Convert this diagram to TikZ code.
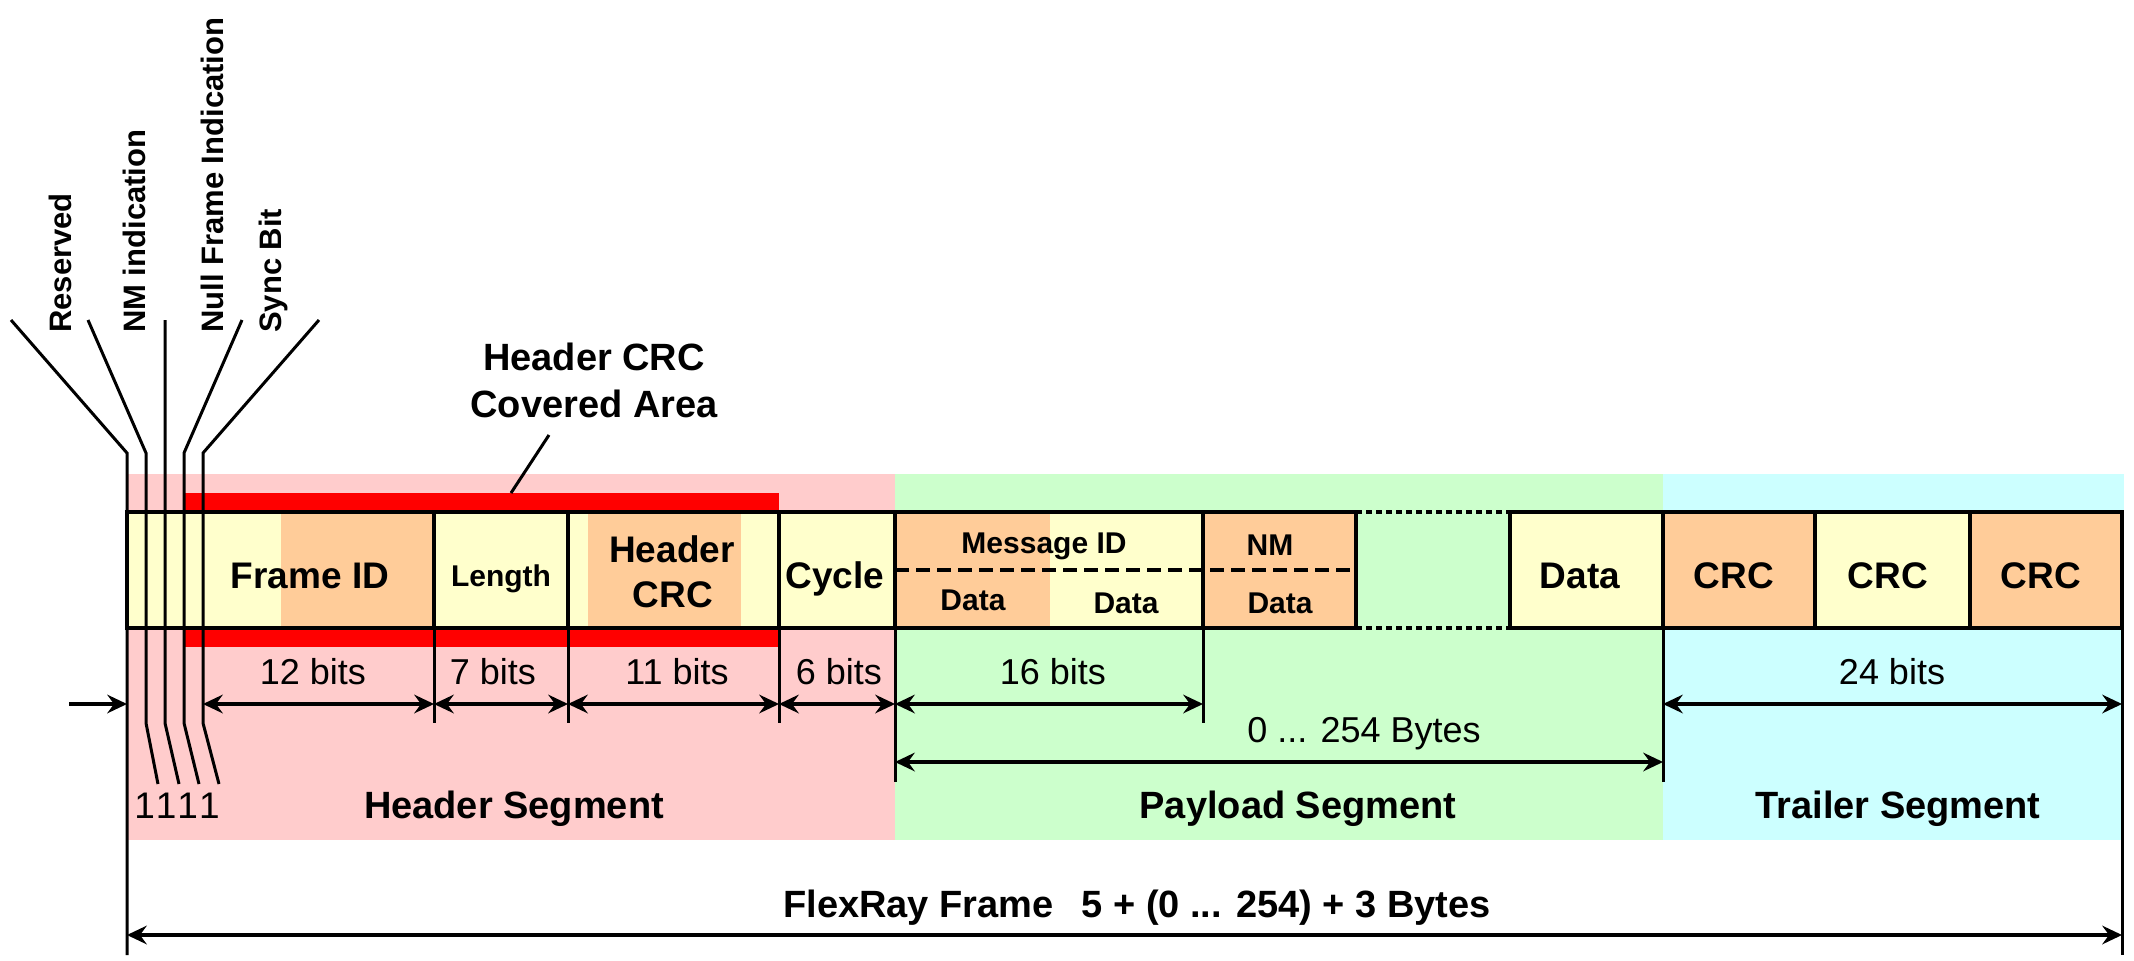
\documentclass[tikz,border=0pt]{standalone}
\usepackage{fontspec}
\setmainfont{Liberation Sans}
\usetikzlibrary{arrows.meta}
\definecolor{segpink}{RGB}{255,204,204}
\definecolor{seggreen}{RGB}{204,255,204}
\definecolor{segcyan}{RGB}{204,255,255}
\definecolor{cellyellow}{RGB}{255,255,204}
\definecolor{cellorange}{RGB}{255,204,153}
\definecolor{crcred}{RGB}{255,0,0}
\newcommand\fsz[1]{\fontsize{#1}{#1}\selectfont}
\tikzset{
  dimtip/.tip={Stealth[length=20pt,width=19pt,inset=7pt,line width=0pt]},
  frameline/.style={line width=4.5pt},
  thinline/.style={line width=3pt},
  dimarrow/.style={line width=4pt,dimtip-dimtip},
  inarrow/.style={line width=4pt,-dimtip},
  cellbold/.style={font=\bfseries\fsz{37},inner sep=0pt,anchor=base},
  cellsmall/.style={font=\bfseries\fsz{30},inner sep=0pt,anchor=base},
  dimlabel/.style={font=\fsz{36},inner sep=0pt,anchor=base},
  seglabel/.style={font=\bfseries\fsz{38},inner sep=0pt,anchor=base},
  sidelabel/.style={font=\bfseries\fsz{31},inner sep=0pt,rotate=90,anchor=base west},
}
\begin{document}
\begin{tikzpicture}[x=1pt,y=-1pt]
\useasboundingbox (0,0) rectangle (2134,961);

% segment backgrounds
\fill[segpink]  (127,474) rectangle (895,840);
\fill[seggreen] (895,474) rectangle (1663,840);
\fill[segcyan]  (1663,474) rectangle (2124,840);

% area protected by the header CRC
\fill[crcred] (184,493) rectangle (779,647);

% cell fills
\fill[cellyellow] (127,512) rectangle (281,628);
\fill[cellorange] (281,512) rectangle (434,628);
\fill[cellyellow] (434,512) rectangle (588,628);
\fill[cellorange] (588,512) rectangle (741,628);
\fill[cellyellow] (741,512) rectangle (895,628);
\fill[cellorange] (895,512) rectangle (1050,628);
\fill[cellyellow] (1050,512) rectangle (1203,628);
\fill[cellorange] (1203,512) rectangle (1356,628);
\fill[cellyellow] (1510,512) rectangle (1663,628);
\fill[cellorange] (1663,512) rectangle (1815,628);
\fill[cellyellow] (1815,512) rectangle (1970,628);
\fill[cellorange] (1970,512) rectangle (2122,628);

% frame outline
\draw[frameline] (1356,512) -- (127,512) -- (127,628) -- (1356,628) -- cycle;
\draw[frameline] (1510,512) rectangle (2122,628);
\draw[frameline,dash pattern=on 6pt off 4pt] (1356,512) -- (1510,512);
\draw[frameline,dash pattern=on 6pt off 4pt] (1356,628) -- (1510,628);
\draw[line width=4pt,dash pattern=on 14pt off 7pt] (895,570) -- (1356,570);

% cell separators
\foreach \x in {434,568,779,895,1203,1663,1815,1970}
  \draw[frameline] (\x,512) -- (\x,628);

% flag bit lines with their fanned-out leaders
\draw[thinline] (11,320) -- (127,453) -- (127,955);
\draw[thinline] (88,320) -- (146,453) -- (146,723) -- (158,784);
\draw[thinline] (165,320) -- (165,723) -- (179,784);
\draw[thinline] (242,320) -- (184,453) -- (184,723) -- (199,784);
\draw[thinline] (319,320) -- (203,453) -- (203,723) -- (219,784);

% dimension ticks below the frame
\foreach \x in {434,568,779,1203}
  \draw[thinline] (\x,628) -- (\x,723);
\foreach \x in {895,1663}
  \draw[thinline] (\x,628) -- (\x,782);
\draw[thinline] (2122,628) -- (2122,955);

% named ends of the dimension arrows
\coordinate (entry) at (69,704);
\coordinate (d0) at (127,704);
\coordinate (d1) at (203,704);
\coordinate (d2) at (434,704);
\coordinate (d3) at (568,704);
\coordinate (d4) at (779,704);
\coordinate (d5) at (895,704);
\coordinate (d6) at (1203,704);
\coordinate (d7) at (1663,704);
\coordinate (d8) at (2122,704);
\coordinate (p0) at (895,762);
\coordinate (p1) at (1663,762);
\coordinate (f0) at (127,935);
\coordinate (f1) at (2122,935);

\draw[inarrow] (entry) -- (d0);
\draw[dimarrow] (d1) -- (d2);
\draw[dimarrow] (d2) -- (d3);
\draw[dimarrow] (d3) -- (d4);
\draw[dimarrow] (d4) -- (d5);
\draw[dimarrow] (d5) -- (d6);
\draw[dimarrow] (d7) -- (d8);
\draw[dimarrow] (p0) -- (p1);
\draw[dimarrow] (f0) -- (f1);

% flag bit names
\node[sidelabel] (reserved) at (71,333) {Reserved};
\node[sidelabel] (nmind) at (145,333) {NM indication};
\node[sidelabel] (nullframe) at (223,333) {Null Frame Indication};
\node[sidelabel] (syncbit) at (281,333) {Sync Bit};

% header CRC covered area callout
\node[font=\bfseries\fsz{38},inner sep=0pt,anchor=base] (covtitle) at (594,370) {Header CRC};
\node[font=\bfseries\fsz{38},inner sep=0pt,anchor=base] (covarea) at (594,417) {Covered Area};
\coordinate (ptrtop) at (549,435);
\coordinate (ptrbot) at (511,493);
\draw[thinline] (ptrtop) -- (ptrbot);

% cell labels
\node[cellbold] (frameid) at (310,588) {Frame ID};
\node[cellsmall] (length) at (501,586) {Length};
\node[cellbold] (hcrcA) at (672,562) {Header};
\node[cellbold] (hcrcB) at (673,607) {CRC};
\node[cellbold] (cycle) at (835,588) {Cycle};
\node[cellsmall] (msgid) at (1044,553) {Message ID};
\node[cellsmall] (dataA) at (973,610) {Data};
\node[cellsmall] (dataB) at (1126,613) {Data};
\node[cellsmall] (nm) at (1270,555) {NM};
\node[cellsmall] (dataC) at (1280,613) {Data};
\node[cellbold] (dataD) at (1580,588) {Data};
\node[cellbold] (crcA) at (1734,588) {CRC};
\node[cellbold] (crcB) at (1888,588) {CRC};
\node[cellbold] (crcC) at (2041,588) {CRC};

% dimension labels
\node[dimlabel] (b12) at (313,684) {12 bits};
\node[dimlabel] (b7) at (493,684) {7 bits};
\node[dimlabel] (b11) at (677,684) {11 bits};
\node[dimlabel] (b6) at (839,684) {6 bits};
\node[dimlabel] (b16) at (1053,684) {16 bits};
\node[dimlabel] (b24) at (1892,684) {24 bits};
\node[dimlabel] (bytes) at (1364,742) {0 ... 254 Bytes};
\node[font=\fsz{37},inner sep=0pt,anchor=base] (ones) at (177,818) {1\hspace{1pt}1\hspace{1pt}1\hspace{1pt}1};

% segment names
\node[seglabel] (hseg) at (514,818) {Header Segment};
\node[seglabel] (pseg) at (1298,818) {Payload Segment};
\node[seglabel] (tseg) at (1898,818) {Trailer Segment};
\node[seglabel] (frame) at (1137,917) {FlexRay Frame\hspace{28pt}5 + (0 ... 254) + 3 Bytes};
\end{tikzpicture}
\end{document}
